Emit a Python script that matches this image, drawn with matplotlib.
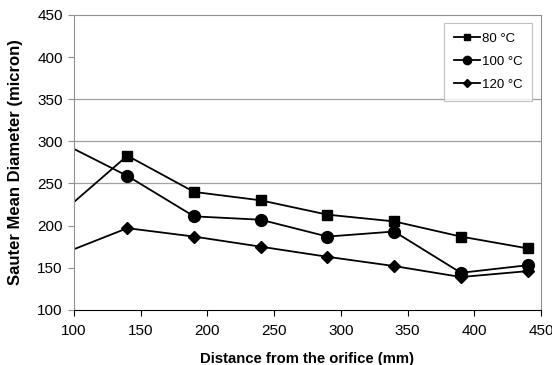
import matplotlib
matplotlib.use('Agg')
import matplotlib.pyplot as plt

plt.rcParams['font.family'] = ['Liberation Sans', 'DejaVu Sans']

# distances (mm); first point is where the line enters at the axis, no marker
distance = [100, 140, 190, 240, 290, 340, 390, 440]
smd_80 = [228, 283, 240, 230, 213, 205, 187, 173]
smd_100 = [291, 259, 211, 207, 187, 193, 144, 153]
smd_120 = [172, 197, 187, 175, 163, 152, 139, 146]
labels = ['80 °C', '100 °C', '120 °C']

fig = plt.figure(figsize=(5.52, 3.65), dpi=100)
ax = fig.add_axes([0.134, 0.151, 0.846, 0.808])

marks = list(range(1, len(distance)))
ax.plot(distance, smd_80, color='k', lw=1.3, marker='s', ms=6.5,
        markevery=marks, label=labels[0])
ax.plot(distance, smd_100, color='k', lw=1.3, marker='o', ms=8.5,
        markevery=marks, label=labels[1])
ax.plot(distance, smd_120, color='k', lw=1.3, marker='D', ms=6,
        markevery=marks, label=labels[2])

ax.set_xlim(100, 450)
ax.set_ylim(100, 450)
ax.set_xticks(range(100, 451, 50))
ax.set_yticks(range(100, 451, 50))
for g in (250, 300, 350):
    ax.axhline(g, color='#a0a0a0', lw=0.9, zorder=0)

for side in ('left', 'top', 'right'):
    ax.spines[side].set_color('#909090')
ax.spines['bottom'].set_color('k')
ax.tick_params(axis='both', labelsize=11, direction='out', length=4)
ax.tick_params(axis='y', color='#909090', pad=4)
ax.tick_params(axis='x', pad=6)

ax.set_xlabel('Distance from the orifice (mm)', fontsize=10.7, fontweight='bold', labelpad=10)
ax.set_ylabel('Sauter Mean Diameter (micron)', fontsize=12, fontweight='bold', labelpad=10)

leg = ax.legend(loc='upper right', bbox_to_anchor=(0.981, 0.973), borderaxespad=0,
                fontsize=9.5, frameon=True, fancybox=False, handlelength=2.0,
                markerscale=0.7, labelspacing=0.8, borderpad=0.75, handletextpad=0.1)
leg.get_frame().set_edgecolor('#b0b0b0')
leg.get_frame().set_linewidth(0.8)

fig.savefig('out.png', dpi=100)
